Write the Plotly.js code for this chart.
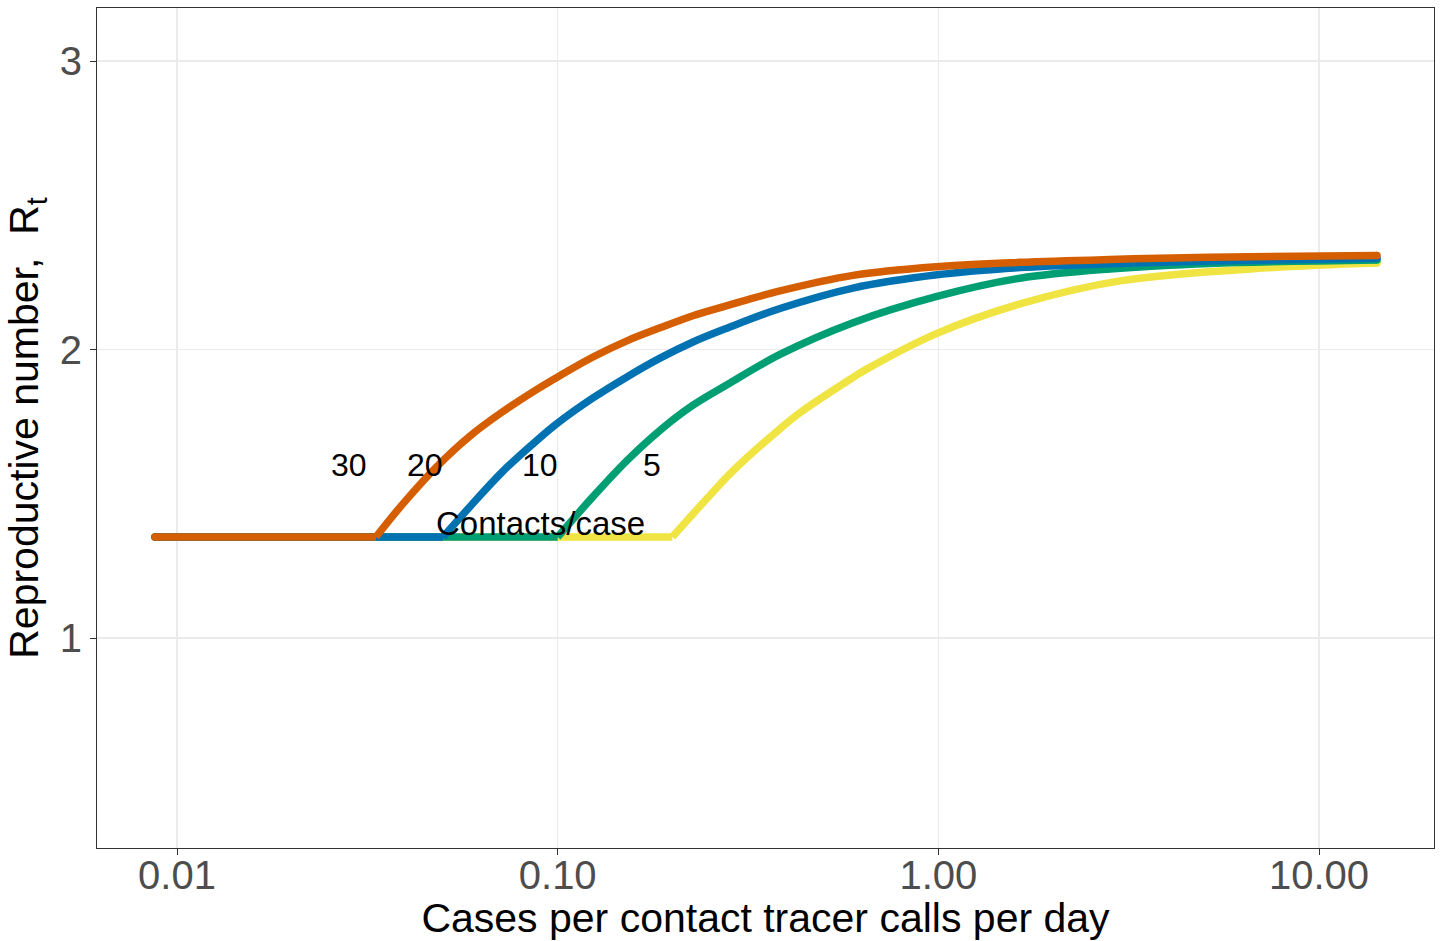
<!DOCTYPE html>
<html>
<head>
<meta charset="utf-8">
<script src="https://cdn.plot.ly/plotly-3.0.1.min.js"></script>
<style>
  html, body { margin: 0; padding: 0; background: #ffffff; }
  #chart { width: 1440px; height: 941px; }
</style>
</head>
<body>
<div id="chart"></div>
<script>
// Contacts per case (series names)
const contactsPerCase = ["5", "10", "20", "30"];

// Series: cases per contact tracer calls per day (x) vs reproductive number Rt (y)
const x5  = [0.00875, 0.2, 0.2512, 0.288, 0.3836, 0.432, 0.5967, 0.648, 0.9916, 1.638, 3.0, 7.3, 14.2];
const y5  = [1.35, 1.35, 1.495, 1.578, 1.725, 1.78, 1.903, 1.932, 2.056, 2.158, 2.238, 2.283, 2.30];

const x10 = [0.00875, 0.1, 0.1238, 0.152, 0.1857, 0.2267, 0.2785, 0.3836, 0.5967, 0.9916, 1.638, 2.823, 5.169, 14.2];
const y10 = [1.35, 1.35, 1.49, 1.615, 1.72, 1.807, 1.878, 1.983, 2.093, 2.184, 2.247, 2.279, 2.298, 2.31];

const x20 = [0.00875, 0.05, 0.0588, 0.0718, 0.0882, 0.1, 0.1238, 0.152, 0.1857, 0.2267, 0.2785, 0.3836, 0.5967, 0.9916, 1.638, 2.823, 5.169, 14.2];
const y20 = [1.35, 1.35, 1.455, 1.578, 1.685, 1.745, 1.832, 1.905, 1.97, 2.026, 2.074, 2.142, 2.213, 2.259, 2.284, 2.297, 2.307, 2.316];

const x30 = [0.00875, 0.0333, 0.0392, 0.0482, 0.0588, 0.0718, 0.0882, 0.1, 0.1238, 0.152, 0.1857, 0.2267, 0.2785, 0.3836, 0.5967, 0.9916, 1.638, 2.823, 5.169, 14.2];
const y30 = [1.35, 1.35, 1.465, 1.595, 1.70, 1.785, 1.862, 1.905, 1.974, 2.03, 2.075, 2.117, 2.152, 2.203, 2.257, 2.287, 2.302, 2.312, 2.32, 2.326];

// Tick labels
const xTickVals = [0.01, 0.1, 1, 10];
const xTickText = ["0.01", "0.10", "1.00", "10.00"];
const yTickVals = [1, 2, 3];
const yTickText = ["1", "2", "3"];

// In-plot labels
const labelText = ["30", "20", "10", "5"];
const labelX = [0.0283, 0.0448, 0.0899, 0.177];
const labelY = [1.598, 1.598, 1.598, 1.598];
const groupLabel = "Contacts/case";
const groupLabelX = 0.0899;
const groupLabelY = 1.397;

const colors = {"5": "#F0E442", "10": "#009E73", "20": "#0072B2", "30": "#D55E00"};
const seriesX = {"5": x5, "10": x10, "20": x20, "30": x30};
const seriesY = {"5": y5, "10": y10, "20": y20, "30": y30};

const FONT = "Liberation Sans, Arial, Helvetica, sans-serif";
const LW = 7.5;

// Each series: flat part drawn straight, rising part drawn smooth, round ends
const traces = [];
contactsPerCase.forEach(k => {
  const xs = seriesX[k], ys = seriesY[k];
  const n = xs.length;
  traces.push({
    type: "scatter", mode: "lines",
    x: xs.slice(0, 2), y: ys.slice(0, 2),
    line: {color: colors[k], width: LW, shape: "linear"},
    name: k
  });
  traces.push({
    type: "scatter", mode: "lines",
    x: xs.slice(1), y: ys.slice(1),
    line: {color: colors[k], width: LW, shape: "spline", smoothing: 1},
    name: k
  });
  traces.push({
    type: "scatter", mode: "markers",
    x: [xs[0], xs[n - 1]], y: [ys[0], ys[n - 1]],
    marker: {color: colors[k], size: LW, line: {width: 0}},
    name: k
  });
});

const annotations = labelText.map((t, i) => ({
  x: Math.log10(labelX[i]), y: labelY[i], xref: "x", yref: "y",
  text: t, showarrow: false,
  font: {family: FONT, size: 32, color: "#000000"},
  xanchor: "center", yanchor: "middle"
}));
annotations.push({
  x: Math.log10(groupLabelX), y: groupLabelY, xref: "x", yref: "y",
  text: groupLabel, showarrow: false,
  font: {family: FONT, size: 33, color: "#000000"},
  xanchor: "center", yanchor: "middle"
});

const layout = {
  width: 1440, height: 941,
  margin: {l: 97, r: 6, t: 8, b: 93},
  paper_bgcolor: "#ffffff",
  plot_bgcolor: "#ffffff",
  showlegend: false,
  font: {family: FONT},
  xaxis: {
    type: "log",
    range: [-2.2102, 1.302],
    tickvals: xTickVals,
    ticktext: xTickText,
    tickfont: {family: FONT, size: 40, color: "#4D4D4D"},
    ticks: "outside", ticklen: 6, tickcolor: "#333333", tickwidth: 1,
    ticklabelstandoff: -14,
    showgrid: true, gridcolor: "#EBEBEB", gridwidth: 1.5,
    zeroline: false,
    showline: true, linecolor: "#333333", linewidth: 1, mirror: true,
    title: {text: "Cases per contact tracer calls per day", font: {family: FONT, size: 41, color: "#000000"}, standoff: 4}
  },
  yaxis: {
    range: [0.2721, 3.1837],
    tickvals: yTickVals,
    ticktext: yTickText,
    tickfont: {family: FONT, size: 40, color: "#4D4D4D"},
    ticks: "outside", ticklen: 6, tickcolor: "#333333", tickwidth: 1,
    showgrid: true, gridcolor: "#EBEBEB", gridwidth: 1.5,
    zeroline: false,
    showline: true, linecolor: "#333333", linewidth: 1, mirror: true,
    title: {text: "Reproductive number,  R<sub>t</sub>", font: {family: FONT, size: 41, color: "#000000"}, standoff: 8}
  },
  annotations: annotations
};

Plotly.newPlot("chart", traces, layout, {displayModeBar: false, staticPlot: true});
</script>
</body>
</html>
